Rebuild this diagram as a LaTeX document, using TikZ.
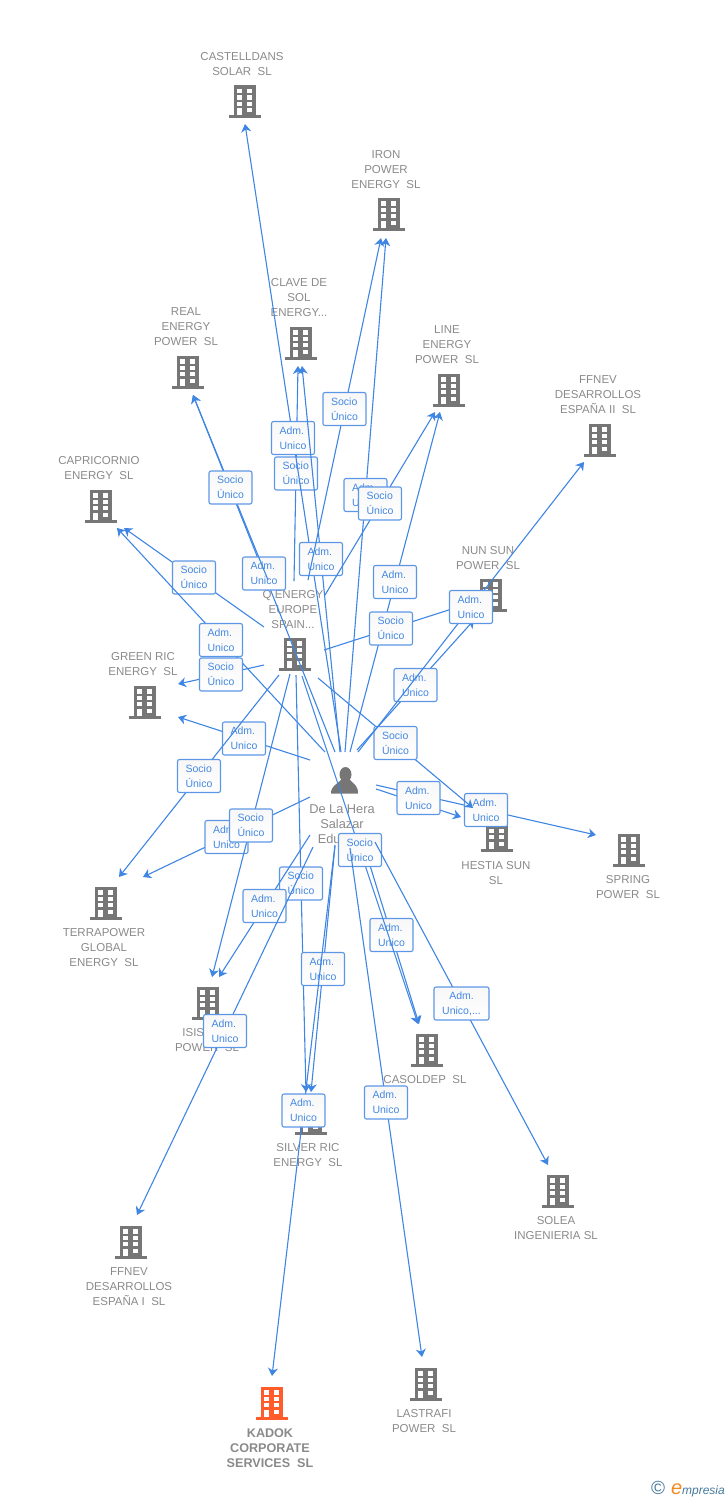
\documentclass[tikz,border=0pt]{standalone}
\usepackage{fontspec}
\setmainfont{Liberation Sans}
\usepackage{xcolor}
\usetikzlibrary{arrows.meta}
\definecolor{bldGray}{HTML}{767676}
\definecolor{bldOrange}{HTML}{FF5B2B}
\definecolor{nameGray}{HTML}{8A8A8A}
\definecolor{linkBlue}{HTML}{3F85E3}
\definecolor{tagBlue}{HTML}{4488E2}
\definecolor{logoBlue}{HTML}{44789A}
\definecolor{logoOrange}{HTML}{F08A24}
\tikzset{
	flow/.style = {draw = linkBlue, line width = 1.1pt, -{Stealth[length = 8pt, width = 10pt, inset = 2.5pt]}},
	tag/.style = {draw = linkBlue!85, line width = 1.1pt, rounded corners = 2pt, top color = black!3, bottom color = white,
		text = tagBlue, font = \fontsize{10.5}{15}\selectfont, align = left, inner sep = 0pt, minimum width = 43pt, minimum height = 33pt},
	title/.style = {text = nameGray, font = \fontsize{11.5}{15}\selectfont, align = center, inner sep = 0pt},
	pics/office/.style = {code = {
		\fill [#1] (-11,-16.5) rectangle (11,15);
		\fill [#1] (-15.7,13.7) rectangle (15.7,16.7);
		\foreach \wy in {-12.7,-6.2,0.2,6.7} {
			\fill [white] (-7.7,\wy) rectangle (-2.7,\wy+4.2);
			\fill [white] (2.4,\wy) rectangle (7.4,\wy+4.2);
		}
		\fill [white] (-7.7,6.7) rectangle (-2.7,13.7);
	}}
}
\begin{document}
\begin{tikzpicture}[x = 1pt, y = -1pt]
	\def\xMAX{728};
	\def\yMAX{1500};
	\useasboundingbox (0,0) rectangle (\xMAX,\yMAX);

	\begin{scope}
		\pic at (245,101.5) {office = bldGray};
		\pic at (389,214) {office = bldGray};
		\pic at (301,343) {office = bldGray};
		\pic at (188,372) {office = bldGray};
		\pic at (449,390) {office = bldGray};
		\pic at (600,440) {office = bldGray};
		\pic at (101,506) {office = bldGray};
		\pic at (491,595) {office = bldGray};
		\pic at (145,702) {office = bldGray};
		\pic at (295,654) {office = bldGray};
		\pic at (497,835) {office = bldGray};
		\pic at (629,850) {office = bldGray};
		\pic at (106,903) {office = bldGray};
		\pic at (208,1003) {office = bldGray};
		\pic at (427,1050) {office = bldGray};
		\pic at (311,1118) {office = bldGray};
		\pic at (131,1242) {office = bldGray};
		\pic at (558,1191) {office = bldGray};
		\pic at (426,1384) {office = bldGray};
		\pic at (272,1403) {office = bldOrange};
	\end{scope}

	\begin{scope}
		\fill [bldGray] (345.5,774.5) ellipse (6 and 7.5);
		\fill [bldGray] (331,793.5) .. controls (331,786) and (336,785) .. (341,780) -- (350,780) .. controls (355,785) and (358,786) .. (358,793.5) -- cycle;
	\end{scope}

	\begin{scope}[yshift = -1pt]
		\node [title] (nameCastelldans) at (242,63.5) {CASTELLDANS\\SOLAR~~SL};
		\node [title] (nameIron) at (386,169) {IRON\\POWER\\ENERGY~~SL};
		\node [title] (nameClave) at (299,297) {CLAVE DE\\SOL\\ENERGY...};
		\node [title] (nameReal) at (186,326) {REAL\\ENERGY\\POWER~~SL};
		\node [title] (nameLine) at (447,344) {LINE\\ENERGY\\POWER~~SL};
		\node [title] (nameFfnevTwo) at (598,394) {FFNEV\\DESARROLLOS\\ESPAÑA II~~SL};
		\node [title] (nameCapricornio) at (99,467.5) {CAPRICORNIO\\ENERGY~~SL};
		\node [title] (nameNun) at (488,557.5) {NUN SUN\\POWER~~SL};
		\node [title] (nameGreen) at (143,663.5) {GREEN RIC\\ENERGY~~SL};
		\node [title] (nameEnergy) at (293,609) {Q ENERGY\\EUROPE\\SPAIN...};
		\node [title, font = \fontsize{12.8}{15}\selectfont] (namePerson) at (342,823) {De La Hera\\Salazar\\Edu\phantom{ardo}};
		\node [title] (nameHestia) at (496,872.5) {HESTIA SUN\\SL};
		\node [title] (nameSpring) at (628,886.5) {SPRING\\POWER~~SL};
		\node [title] (nameTerra) at (104,947) {TERRAPOWER\\GLOBAL\\ENERGY~~SL};
		\node [title] (nameIsis) at (207,1039.5) {ISIS\phantom{ SUN}\\POWER~~SL};
		\node [title] (nameCasoldep) at (425,1079) {CASOLDEP~~SL};
		\node [title] (nameSilver) at (308,1154.5) {SILVER RIC\\ENERGY~~SL};
		\node [title] (nameFfnevOne) at (129,1286) {FFNEV\\DESARROLLOS\\ESPAÑA I~~SL};
		\node [title] (nameSolea) at (556,1227.5) {SOLEA\\INGENIERIA SL};
		\node [title] (nameLastrafi) at (424,1420.5) {LASTRAFI\\POWER~~SL};
		\node [title, font = \bfseries\fontsize{12.6}{15}\selectfont] (nameKadok) at (270,1447) {KADOK\\CORPORATE\\SERVICES~~SL};
	\end{scope}

	\begin{scope}
		\node [inner sep = 0pt, anchor = base east] (nameLogo) at (725,1494.5) {\textcolor{logoBlue}{\fontsize{19}{15}\selectfont ©}\hspace{6pt}\textcolor{logoOrange}{\fontsize{20}{15}\selectfont\itshape e}\textcolor{logoBlue}{\fontsize{12}{15}\selectfont\itshape mpresia}};
	\end{scope}

	\begin{scope}
		\coordinate (qCapricornio) at (264,627);
		\coordinate (qGreen) at (264,665);
		\coordinate (qTerra) at (279,675);
		\coordinate (qIsis) at (290,674);
		\coordinate (qSilver) at (296,675);
		\coordinate (qCasoldep) at (302,676);
		\coordinate (qHestia) at (318,678);
		\coordinate (qNun) at (324,650);
		\coordinate (qReal) at (268,580);
		\coordinate (qClave) at (294,581);
		\coordinate (qIron) at (308,580);
		\coordinate (qLine) at (325,595);

		\coordinate (pCapricornio) at (325,752);
		\coordinate (pGreen) at (310,760);
		\coordinate (pTerra) at (310,797);
		\coordinate (pIsis) at (310,835);
		\coordinate (pFfnevOne) at (313,847);
		\coordinate (pSilver) at (335,846);
		\coordinate (pKadok) at (335,845);
		\coordinate (pCasoldep) at (364,846);
		\coordinate (pLastrafi) at (350,848);
		\coordinate (pSolea) at (375,842);
		\coordinate (pHestia) at (376,789);
		\coordinate (pSpring) at (376,785);
		\coordinate (pReal) at (335,752);
		\coordinate (pCastelldans) at (341,752);
		\coordinate (pClave) at (340,752);
		\coordinate (pIron) at (345,752);
		\coordinate (pLine) at (350,752);
		\coordinate (pNun) at (357,750);
		\coordinate (pFfnevTwo) at (358,752);

		\coordinate (tCastelldans) at (245,124);
		\coordinate (tIronA) at (381,238);
		\coordinate (tIronB) at (386,238);
		\coordinate (tClaveA) at (298,366);
		\coordinate (tClaveB) at (302,366);
		\coordinate (tReal) at (193,395);
		\coordinate (tLineA) at (435,412);
		\coordinate (tLineB) at (440,412);
		\coordinate (tFfnevTwo) at (584,462);
		\coordinate (tCapricornioA) at (124,528);
		\coordinate (tCapricornioB) at (117,528);
		\coordinate (tNunA) at (458,607);
		\coordinate (tNunB) at (474,620);
		\coordinate (tGreenA) at (178,684);
		\coordinate (tGreenB) at (178,717);
		\coordinate (tHestiaA) at (473,808);
		\coordinate (tHestiaB) at (461,817);
		\coordinate (tSpring) at (596,835);
		\coordinate (tTerraA) at (119,877);
		\coordinate (tTerraB) at (143,877);
		\coordinate (tIsisA) at (212,977);
		\coordinate (tIsisB) at (219,977);
		\coordinate (tCasoldepA) at (418,1024);
		\coordinate (tCasoldepB) at (419,1024);
		\coordinate (tSilverA) at (306,1092);
		\coordinate (tSilverB) at (311,1092);
		\coordinate (tSolea) at (548,1165);
		\coordinate (tFfnevOne) at (137,1215);
		\coordinate (tLastrafi) at (422,1357);
		\coordinate (tKadok) at (272,1376);
	\end{scope}

	\begin{scope}
		\draw [flow] (qCapricornio) -- node [tag] (socioCapricornio) {Socio\\Único} (tCapricornioA);
		\draw [flow] (pCapricornio) -- node [tag] (admCapricornio) {Adm.\\Unico} (tCapricornioB);
		\draw [flow] (qGreen) -- node [tag] (socioGreen) {Socio\\Único} (tGreenA);
		\draw [flow] (pGreen) -- node [tag] (admGreen) {Adm.\\Unico} (tGreenB);
		\draw [flow] (qTerra) -- node [tag] (socioTerra) {Socio\\Único} (tTerraA);
		\draw [flow] (pTerra) -- node [tag] (admTerra) {Adm.\\Unico} (tTerraB);
		\draw [flow] (qIsis) -- node [tag] (socioIsis) {Socio\\Único} (tIsisA);
		\draw [flow] (qSilver) -- node [tag] (socioSilver) {Socio\\Único} (tSilverA);
		\draw [flow] (pIsis) -- node [tag] (admIsis) {Adm.\\Unico} (tIsisB);
		\draw [flow] (pFfnevOne) -- node [tag] (admFfnevOne) {Adm.\\Unico} (tFfnevOne);
		\draw [flow] (pSilver) -- node [tag] (admSilver) {Adm.\\Unico} (tSilverB);
		\draw [flow] (pKadok) -- node [tag] (admKadok) {Adm.\\Unico} (tKadok);
		\draw [flow] (pCasoldep) -- node [tag] (admCasoldep) {Adm.\\Unico} (tCasoldepB);
		\draw [flow] (qCasoldep) -- node [tag] (socioCasoldep) {Socio\\Único} (tCasoldepA);
		\draw [flow] (pLastrafi) -- node [tag] (admLastrafi) {Adm.\\Unico} (tLastrafi);
		\draw [flow] (pSolea) -- node [tag, minimum width = 55pt, align = center] (admSolea) {Adm.\\Unico,...} (tSolea);
		\draw [flow] (pSpring) -- node [tag] (admSpring) {Adm.\\Unico} (tSpring);
		\draw [flow] (pHestia) -- node [tag, yshift = 5pt] (admHestia) {Adm.\\Unico} (tHestiaB);
		\draw [flow] (qHestia) -- node [tag] (socioHestia) {Socio\\Único} (tHestiaA);
		\draw [flow] (pReal) -- node [tag] (admReal) {Adm.\\Unico} (tReal);
		\draw [flow] (qReal) -- node [tag] (socioReal) {Socio\\Único} (tReal);
		\draw [flow] (qClave) -- node [tag] (socioClave) {Socio\\Único} (tClaveA);
		\draw [flow] (pCastelldans) -- node [tag] (admCastelldans) {Adm.\\Unico} (tCastelldans);
		\draw [flow] (pClave) -- node [tag] (admClave) {Adm.\\Unico} (tClaveB);
		\draw [flow] (qIron) -- node [tag] (socioIron) {Socio\\Único} (tIronA);
		\draw [flow] (pIron) -- node [tag] (admIron) {Adm.\\Unico} (tIronB);
		\draw [flow] (qLine) -- node [tag] (socioLine) {Socio\\Único} (tLineA);
		\draw [flow] (pLine) -- node [tag] (admLine) {Adm.\\Unico} (tLineB);
		\draw [flow] (qNun) -- node [tag] (socioNun) {Socio\\Único} (tNunA);
		\draw [flow] (pNun) -- node [tag] (admNun) {Adm.\\Unico} (tNunB);
		\draw [flow] (pFfnevTwo) -- node [tag] (admFfnevTwo) {Adm.\\Unico} (tFfnevTwo);
	\end{scope}
\end{tikzpicture}
\end{document}
